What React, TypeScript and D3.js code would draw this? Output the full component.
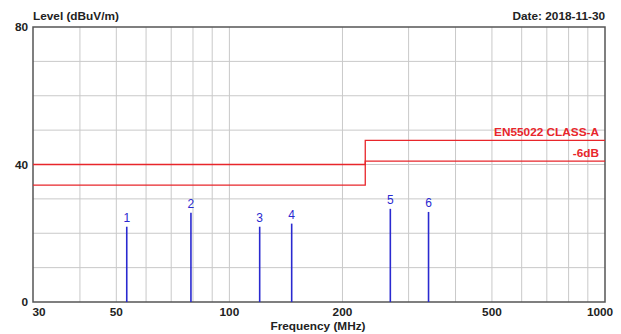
import React from "react";
import * as d3 from "d3";

const xTickLabels = [30, 50, 100, 200, 500, 1000];
const xGridFreqs = [40, 50, 60, 70, 80, 90, 100, 200, 300, 400, 500, 600, 700, 800, 900];
const yTickLabels = [0, 40, 80];
const yGridLevels = [10, 20, 30, 40, 50, 60, 70];

const limitFreqs = [30, 230, 230, 1000];
const limitClassA = [40, 40, 47, 47];
const limitMinus6 = [34, 34, 41, 41];

const markerIds = ["1", "2", "3", "4", "5", "6"];
const markerFreqs = [53.3, 79.0, 120.4, 146.5, 268.2, 339.0];
const markerLevels = [21.9, 26.0, 21.9, 22.8, 27.1, 26.2];

const W = 621;
const H = 334;
const m = { left: 33, right: 605, top: 27, bottom: 302 };

export default function App() {
  const x = d3.scaleLog().domain([30, 1000]).range([m.left, m.right]);
  const y = d3.scaleLinear().domain([0, 80]).range([m.bottom, m.top]);
  const line = d3
    .line<number>()
    .x((_, i) => x(limitFreqs[i]))
    .y((d) => y(d));
  const font = "'Liberation Sans', Arial, sans-serif";
  const red = "#e8262b";
  const blue = "#2a2ad0";
  const grid = "#c9c9c9";
  const fs = 11.8;

  return (
    <svg
      width={W}
      height={H}
      style={{ position: "absolute", left: 0, top: 0, display: "block", background: "#fff" }}
      fontFamily={font}
    >
      <rect x={0} y={0} width={W} height={H} fill="#fff" />
      {xGridFreqs.map((f) => (
        <line key={"gx" + f} x1={x(f)} x2={x(f)} y1={m.top} y2={m.bottom} stroke={grid} strokeWidth={1} />
      ))}
      {yGridLevels.map((v) => (
        <line key={"gy" + v} x1={m.left} x2={m.right} y1={y(v)} y2={y(v)} stroke={grid} strokeWidth={1} />
      ))}
      <rect
        x={m.left}
        y={m.top}
        width={m.right - m.left}
        height={m.bottom - m.top}
        fill="none"
        stroke="#555"
        strokeWidth={1.5}
      />
      <path d={line(limitClassA) || ""} fill="none" stroke={red} strokeWidth={1.3} />
      <path d={line(limitMinus6) || ""} fill="none" stroke={red} strokeWidth={1.3} />
      <text x={599} y={y(limitClassA[3]) - 4} textAnchor="end" fill={red} fontSize={fs} fontWeight="bold">
        EN55022 CLASS-A
      </text>
      <text x={599} y={y(limitMinus6[3]) - 4} textAnchor="end" fill={red} fontSize={fs} fontWeight="bold">
        -6dB
      </text>
      {markerIds.map((id, i) => (
        <g key={"mk" + id}>
          <line
            x1={x(markerFreqs[i])}
            x2={x(markerFreqs[i])}
            y1={m.bottom}
            y2={y(markerLevels[i])}
            stroke={blue}
            strokeWidth={1.6}
          />
          <text
            x={x(markerFreqs[i])}
            y={y(markerLevels[i]) - 4.5}
            textAnchor="middle"
            fill={blue}
            fontSize={12}
          >
            {id}
          </text>
        </g>
      ))}
      {yTickLabels.map((v) => (
        <text key={"yl" + v} x={28} y={y(v) + 4} textAnchor="end" fontSize={fs} fontWeight="bold" fill="#222">
          {v}
        </text>
      ))}
      {xTickLabels.map((f) => (
        <text
          key={"xl" + f}
          x={Math.min(Math.max(x(f), m.left + 6), m.right - 5)}
          y={316}
          textAnchor="middle"
          fontSize={fs}
          fontWeight="bold"
          fill="#222"
        >
          {f}
        </text>
      ))}
      <text x={318} y={330} textAnchor="middle" fontSize={fs} fontWeight="bold" fill="#222">
        Frequency (MHz)
      </text>
      <text x={33} y={20} fontSize={fs} fontWeight="bold" fill="#222">
        Level (dBuV/m)
      </text>
      <text x={605} y={20} textAnchor="end" fontSize={fs} fontWeight="bold" fill="#222">
        Date: 2018-11-30
      </text>
    </svg>
  );
}
